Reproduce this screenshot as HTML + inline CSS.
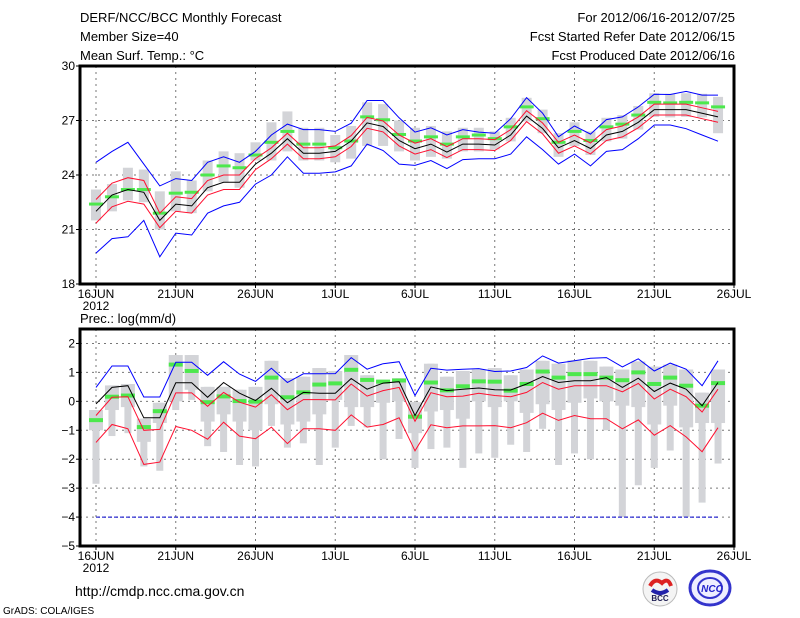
<!DOCTYPE html>
<html><head><meta charset="utf-8"><style>
body{margin:0;background:#fff;width:800px;height:618px;overflow:hidden}
svg{display:block;font-family:"Liberation Sans",sans-serif}
</style></head><body>
<svg id="s" width="800" height="618" xmlns="http://www.w3.org/2000/svg">
<text x="80" y="22" font-size="13">DERF/NCC/BCC Monthly Forecast</text>
<text x="80" y="41" font-size="13">Member Size=40</text>
<text x="80" y="60" font-size="13">Mean Surf. Temp.: °C</text>
<text x="735" y="22" font-size="13" text-anchor="end">For 2012/06/16-2012/07/25</text>
<text x="735" y="41" font-size="13" text-anchor="end">Fcst Started Refer Date 2012/06/15</text>
<text x="735" y="60" font-size="13" text-anchor="end">Fcst Produced Date 2012/06/16</text>
<text x="80" y="323" font-size="13">Prec.: log(mm/d)</text>
<text x="75" y="596" font-size="14">http://cmdp.ncc.cma.gov.cn</text>
<text x="3" y="614" font-size="10">GrADS: COLA/IGES</text>
<g>
<circle cx="660" cy="589" r="17" fill="#f4f4f4" stroke="#bbb"/>
<path d="M650 586 q5 -9 12 -3 q6 -6 9 3" fill="none" stroke="#d22" stroke-width="4"/>
<path d="M652 590 q8 6 16 0" fill="none" stroke="#22a" stroke-width="4"/>
<text x="660" y="601" font-size="8" font-weight="bold" text-anchor="middle" fill="#225">BCC</text>
<ellipse cx="710" cy="588" rx="20" ry="17" fill="#eef" stroke="#33c" stroke-width="3"/>
<ellipse cx="710" cy="588" rx="12" ry="10" fill="none" stroke="#33c" stroke-width="2"/>
<text x="712" y="592" font-size="10" font-weight="bold" font-style="italic" text-anchor="middle" fill="#22c">NCC</text>
</g>
</svg>
<script>
const S=document.getElementById('s');const NS='http://www.w3.org/2000/svg';
function el(t,a,txt){const e=document.createElementNS(NS,t);for(const k in a)e.setAttribute(k,a[k]);if(txt!=null)e.textContent=txt;S.appendChild(e);return e;}
const X=d=>96+15.95*d;
// temperature data
const Tb=[22.0,22.9,23.2,23.05,21.5,22.4,22.3,23.3,23.6,23.6,24.6,25.2,26.0,25.2,25.2,25.3,25.87,26.87,26.67,25.9,25.45,25.7,25.26,25.7,25.7,25.65,26.2,27.24,26.56,25.5,25.9,25.46,26.2,26.4,26.9,27.6,27.6,27.6,27.4,27.2];
const Tbu=[24.7,25.3,25.8,24.6,23.4,23.8,23.7,24.7,25.0,24.7,25.3,26.2,26.8,26.5,26.5,26.4,26.85,28.1,28.1,27.15,26.36,26.6,26.2,26.5,26.36,26.3,27.1,28.26,27.4,26.1,26.7,26.25,27.05,27.2,27.75,28.45,28.43,28.6,28.4,28.4];
const Tbl=[19.7,20.5,20.6,21.5,19.5,20.8,20.7,21.9,22.3,22.5,23.5,24.0,25.0,24.1,24.1,24.17,24.5,25.7,25.35,24.6,24.53,24.8,24.35,24.85,24.9,24.9,25.15,26.1,25.4,24.6,25.15,24.5,25.3,25.4,26.0,26.75,26.75,26.55,26.2,25.86];
const Tg=[22.4,22.8,23.2,23.2,21.9,23.0,23.05,24.0,24.5,24.4,25.1,25.8,26.4,25.7,25.7,25.5,25.87,27.2,27.04,26.23,25.87,26.1,25.7,26.1,26.2,26.0,26.65,27.75,27.1,25.8,26.4,25.9,26.65,26.8,27.3,28.0,27.97,28.0,27.97,27.75];
const Tgr=[[21.5,23.2],[22.0,23.5],[22.6,24.4],[22.5,24.3],[21.0,23.1],[22.0,24.2],[21.9,23.7],[23.1,24.8],[23.6,25.3],[23.3,25.2],[24.8,25.8],[24.8,26.9],[25.3,27.5],[24.8,26.6],[24.8,26.6],[24.7,26.2],[24.9,26.7],[25.6,28.0],[25.6,27.9],[25.3,27.0],[24.8,26.6],[25.0,26.7],[24.9,26.4],[25.3,26.6],[25.3,26.6],[25.4,26.4]];
for(let d=26;d<40;d++){Tgr.push([Tg[d]-0.8,Tg[d]+0.5]);}
Tgr[39]=[26.3,28.3];
function spr(d){return d<4?0.65:d<10?0.4:0.3;}
const Tru=Tb.map((v,d)=>v+spr(d)), Trl=Tb.map((v,d)=>v-spr(d));
// precip
const Pb=[-0.09,0.48,0.54,-0.57,-0.57,0.64,0.64,0.14,0.65,0.28,0.03,0.45,-0.05,0.31,0.28,0.28,0.79,0.42,0.63,0.68,-0.49,0.5,0.37,0.42,0.46,0.4,0.39,0.6,0.86,0.65,0.71,0.71,0.82,0.48,0.8,0.34,0.63,0.42,-0.15,0.65];
const Pbu=[0.48,1.22,1.22,0.15,0.15,1.35,1.35,0.9,1.37,0.94,0.69,1.14,0.65,0.95,0.95,0.96,1.51,1.11,1.3,1.37,0.2,1.14,1.08,1.11,1.13,1.03,1.05,1.17,1.57,1.32,1.4,1.49,1.51,1.19,1.47,1.05,1.32,1.11,0.54,1.4];
const Pru=[-0.49,0.14,0.16,-1.0,-0.97,0.29,0.29,-0.17,0.31,-0.03,-0.2,0.23,-0.29,0.06,0.06,0.05,0.6,0.18,0.37,0.48,-0.69,0.3,0.16,0.18,0.28,0.2,0.16,0.31,0.65,0.42,0.54,0.54,0.54,0.33,0.62,0.08,0.42,0.16,-0.37,0.42];
const Prl=[-1.42,-0.8,-0.95,-2.18,-2.1,-0.87,-1.0,-1.31,-0.72,-1.2,-1.29,-0.89,-1.46,-0.95,-0.95,-1.0,-0.47,-0.89,-0.8,-0.57,-1.71,-0.81,-0.91,-0.85,-0.85,-0.84,-0.91,-0.74,-0.41,-0.66,-0.49,-0.6,-0.6,-0.95,-0.64,-1.17,-0.84,-1.23,-1.74,-0.91];
const Pg=[-0.65,0.16,0.2,-0.89,-0.34,1.27,1.05,-0.03,0.17,0.01,-0.01,0.82,0.14,0.31,0.58,0.62,1.09,0.74,0.68,0.72,-0.53,0.65,0.38,0.52,0.69,0.68,0.37,0.6,1.03,0.82,0.94,0.94,0.82,0.73,1.0,0.6,0.82,0.54,-0.15,0.63];
const Pbox=[[-1.0,-0.3,-2.85],[-0.3,0.55,-1.2],[-0.2,0.6,-1.1],[-1.4,-0.6,-2.25],[-0.75,-0.05,-2.4],[0.0,1.6,-0.3],[0.4,1.6,0.05],[-0.7,0.5,-1.55],[-0.45,0.5,-1.75],[-0.7,0.4,-2.2],[-1.0,0.5,-2.25],[-0.1,1.4,-0.85],[-0.8,0.8,-1.6],[-0.7,0.85,-1.45],[-0.45,1.15,-2.2],[0.05,1.05,-1.6],[-0.2,1.6,-0.85],[-0.2,0.9,-0.9],[-0.05,0.75,-2.0],[0.0,0.8,-1.3],[-1.1,-0.03,-2.3],[-0.35,1.3,-1.65],[-0.3,0.85,-1.6],[-0.6,1.05,-2.3],[0.0,1.1,-1.8],[-0.2,1.15,-1.95],[0.0,0.9,-1.5],[-0.4,1.1,-1.75],[-0.1,1.4,-0.95],[-0.3,1.3,-2.2],[-0.05,1.42,-1.8],[0.1,1.4,-2.0],[0.0,1.2,-1.0],[-0.15,1.1,-4.0],[-0.2,1.38,-2.9],[-0.8,1.2,-2.3],[-0.15,1.27,-1.7],[-0.9,1.1,-4.0],[-0.75,0.3,-3.5],[-0.75,1.1,-2.15]];
const labels=['16JUN','21JUN','26JUN','1JUL','6JUL','11JUL','16JUL','21JUL','26JUL'];
function panel(top,bot,vmin,vmax,ticks,fy){
 const L=80,R=734;
 const Y=v=>bot-(v-vmin)/(vmax-vmin)*(bot-top);
 for(const t of ticks){const y=Y(t);if(t!=vmin&&t!=vmax)el('line',{x1:L,x2:R,y1:y,y2:y,stroke:'#777','stroke-dasharray':'2,4'});
  el('line',{x1:L-4,x2:L,y1:y,y2:y,stroke:'#000'});
  el('text',{x:L-5,y:y+4,'font-size':12,'text-anchor':'end'},String(t).replace('-','\u2212'));}
 for(let i=0;i<9;i++){const x=X(i*5);if(i<8)el('line',{x1:x,x2:x,y1:top,y2:bot,stroke:'#777','stroke-dasharray':'2,4'});
  el('line',{x1:x,x2:x,y1:bot,y2:bot+4,stroke:'#000'});
  el('text',{x:x,y:bot+14,'font-size':12,'text-anchor':'middle'},labels[i]);}
 el('text',{x:X(0),y:bot+26,'font-size':12,'text-anchor':'middle'},'2012');
 return Y;}
function poly(arr,Y,c,w){el('polyline',{points:arr.map((v,d)=>X(d).toFixed(1)+','+Y(v).toFixed(1)).join(' '),fill:'none',stroke:c,'stroke-width':w||1});}
// top
let Y=panel(66,284,18,30,[18,21,24,27,30]);
Tgr.forEach((r,d)=>el('rect',{x:X(d)-5,y:Y(r[1]),width:10,height:Y(r[0])-Y(r[1]),fill:'#d3d4d8'}));
Tg.forEach((v,d)=>el('rect',{x:X(d)-7,y:Y(v)-1.5,width:14,height:3,fill:'#4de84d'}));
poly(Tbu,Y,'#0000ff');poly(Tbl,Y,'#0000ff');poly(Tru,Y,'#ff1030');poly(Trl,Y,'#ff1030');poly(Tb,Y,'#000');
el('rect',{x:80,y:66,width:654,height:218,fill:'none',stroke:'#000','stroke-width':3});
// bottom
Y=panel(329,546,-5,2.5,[-5,-4,-3,-2,-1,0,1,2]);
Pbox.forEach((r,d)=>{el('rect',{x:X(d)-3.5,y:Y(r[1]),width:7,height:Y(r[2])-Y(r[1]),fill:'#d3d4d8'});el('rect',{x:X(d)-7,y:Y(r[1]),width:14,height:Y(r[0])-Y(r[1]),fill:'#d3d4d8'});});
Pg.forEach((v,d)=>el('rect',{x:X(d)-7,y:Y(v)-2,width:14,height:4,fill:'#4de84d'}));
el('line',{x1:X(0),x2:X(39),y1:Y(-4),y2:Y(-4),stroke:'#0000cc','stroke-dasharray':'4,2'});
poly(Pbu,Y,'#0000ff');poly(Pru,Y,'#ff1030');poly(Prl,Y,'#ff1030');poly(Pb,Y,'#000');
el('rect',{x:80,y:329,width:654,height:217,fill:'none',stroke:'#000','stroke-width':3});
</script>
</body></html>
